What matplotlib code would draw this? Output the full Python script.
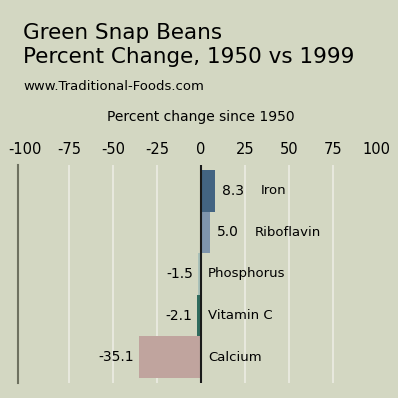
import matplotlib
matplotlib.use("Agg")
import matplotlib.pyplot as plt

# data
nutrients = ["Iron", "Riboflavin", "Phosphorus", "Vitamin C", "Calcium"]
changes = [8.3, 5.0, -1.5, -2.1, -35.1]
bar_colors = ["#436482", "#7f95ad", "#a9c1b9", "#2f6b5e", "#c0a49e"]
ticks = [-100, -75, -50, -25, 0, 25, 50, 75, 100]
grid_at = [-75, -50, -25, 25, 50, 75]

bg = "#d3d7c2"
plt.rcParams["font.family"] = ["DejaVu Sans"]
plt.rcParams["axes.unicode_minus"] = False

fig = plt.figure(figsize=(3.98, 3.98), dpi=100, facecolor=bg)
ax = fig.add_axes([18 / 398, 15 / 398, 358.5 / 398, 218 / 398])
ax.set_facecolor(bg)

# titles
fig.text(23 / 398, 1 - 39 / 398, "Green Snap Beans", fontsize=15.5, va="baseline")
fig.text(23 / 398, 1 - 63 / 398, "Percent Change, 1950 vs 1999", fontsize=15.5, va="baseline")
fig.text(23 / 398, 1 - 90 / 398, "www.Traditional-Foods.com", fontsize=9.5, va="baseline")

# bars, top to bottom
ypos = list(range(len(nutrients)))[::-1]
ax.barh(ypos, changes, height=1.0, color=bar_colors, zorder=2)

for x in grid_at:
    ax.axvline(x, color="#eeeee6", lw=1.1, zorder=1)
ax.axvline(0, color="#1a1a1a", lw=1.5, zorder=3)

for y, v, name in zip(ypos, changes, nutrients):
    if v >= 0:
        t = ax.annotate(f"{v:.1f}", (v, y), xytext=(5, 0), textcoords="offset points",
                        ha="left", va="center", fontsize=10)
        ax.annotate(name, (1, 0.5), xycoords=t, xytext=(11.5, 0), textcoords="offset points",
                    ha="left", va="center", fontsize=9.5)
    else:
        ax.annotate(f"{v:.1f}", (v, y), xytext=(-3.5, 0), textcoords="offset points",
                    ha="right", va="center", fontsize=10)
        ax.annotate(name, (0, y), xytext=(5.3, 0), textcoords="offset points",
                    ha="left", va="center", fontsize=9.5)

ax.set_xlim(-104, 100)
ax.set_ylim(-0.62, 4.62)
ax.xaxis.tick_top()
ax.set_xticks(ticks)
ax.set_xticklabels([str(t) for t in ticks])
ax.tick_params(axis="x", length=0, pad=5.5, labelsize=10.5)
ax.set_yticks([])

ax.text(0, 1.2, "Percent change since 1950", transform=ax.get_xaxis_transform(),
        ha="center", va="baseline", fontsize=10)

ax.spines[["top", "right", "bottom"]].set_visible(False)
ax.spines["left"].set_color("#6e7160")
ax.spines["left"].set_linewidth(1.5)

fig.savefig("out.png", dpi=100, facecolor=bg)
